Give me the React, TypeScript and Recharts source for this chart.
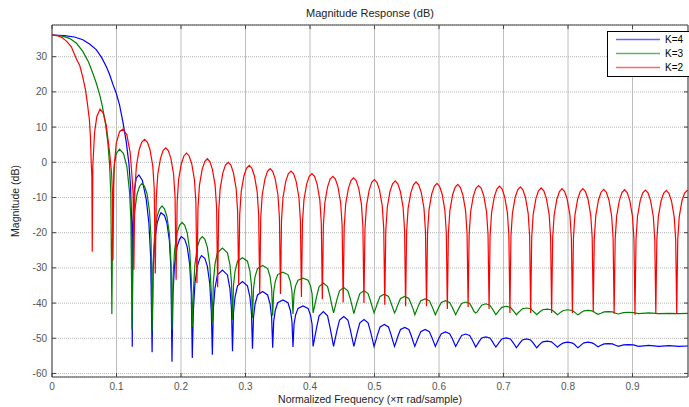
import { CartesianGrid, Legend, Line, LineChart, ReferenceArea, XAxis, YAxis } from 'recharts';

// tick values
const X_TICKS = [0, 0.1, 0.2, 0.3, 0.4, 0.5, 0.6, 0.7, 0.8, 0.9];
const Y_TICKS = [-60, -50, -40, -30, -20, -10, 0, 10, 20, 30];

// [normalized frequency, magnitude dB]
const K4_BLUE: [number, number][] = [
  [0, 36.1], [0.0194, 36.0], [0.0349, 35.6], [0.0478, 34.8], [0.0582, 33.6], [0.0686, 32], [0.0768, 29.8],
  [0.0841, 27.2], [0.0892, 25], [0.0943, 22.2], [0.0996, 19.6], [0.1047, 16.3], [0.1099, 11.5], [0.1151, 5.8],
  [0.1192, -0.3], [0.1218, -6.9], [0.1237, -18],
  [0.1244, -52.4], [0.1254, -18], [0.1272, -8.5], [0.1306, -4.5], [0.1347, -3.6], [0.14, -5.1], [0.1462, -10.7], [0.1502, -17.3], [0.153, -27],
  [0.1552, -54.0], [0.1568, -30.3], [0.1592, -22.3], [0.163, -17.3], [0.1669, -15.1], [0.169, -14.3], [0.1743, -15.1], [0.1782, -17.3], [0.182, -22.3], [0.1844, -30.3],
  [0.186, -56.7], [0.1876, -37.1], [0.19, -29.1], [0.1938, -24.1], [0.1977, -21.9], [0.2005, -21.1], [0.2058, -21.9], [0.2097, -24.1], [0.2135, -29.1], [0.2159, -37.1],
  [0.2175, -55.6], [0.2191, -42.5], [0.2215, -34.5], [0.2253, -29.5], [0.2292, -27.3], [0.2318, -26.5], [0.2369, -27.3], [0.2408, -29.5], [0.2446, -34.5], [0.247, -42.5],
  [0.2486, -54.7], [0.2502, -41.4], [0.2526, -35.9], [0.2564, -32], [0.2642, -30.6], [0.272, -32], [0.2758, -35.9], [0.2782, -41.4],
  [0.2798, -53.7], [0.2814, -42.7], [0.2838, -38.2], [0.2876, -35.1], [0.2953, -33.9], [0.303, -35.1], [0.3068, -38.2], [0.3092, -42.7],
  [0.3108, -53.0], [0.3124, -44], [0.3148, -40.3], [0.3186, -37.7], [0.3265, -36.7], [0.3343, -37.7], [0.3381, -40.3], [0.3405, -44],
  [0.3421, -52.7], [0.3437, -45.2], [0.3461, -42.1], [0.3499, -39.9], [0.3579, -39.1], [0.3658, -39.9], [0.3696, -42.1], [0.372, -45.2],
  [0.3736, -52.5], [0.3752, -46], [0.3776, -43.4], [0.3814, -41.5], [0.3892, -40.8], [0.397, -41.5], [0.4008, -43.4], [0.4032, -46],
  [0.4048, -52.3], [0.4073, -49.8], [0.4103, -46.9], [0.4141, -43.6], [0.4207, -42.4], [0.4272, -43.6], [0.431, -46.9], [0.434, -49.8],
  [0.4365, -52.3], [0.439, -50.2], [0.442, -47.6], [0.4458, -44.8], [0.4523, -43.8], [0.4587, -44.8], [0.4625, -47.6], [0.4655, -50.2],
  [0.468, -52.3], [0.4705, -50.4], [0.4735, -48.1], [0.4773, -45.6], [0.4837, -44.7], [0.49, -45.6], [0.4938, -48.1], [0.4968, -50.4],
  [0.4993, -52.3], [0.5018, -50.8], [0.5048, -48.9], [0.5086, -46.8], [0.5152, -46.1], [0.5217, -46.8], [0.5255, -48.9], [0.5285, -50.8],
  [0.531, -52.3], [0.5335, -51], [0.5365, -49.3], [0.5403, -47.5], [0.5468, -46.9], [0.5532, -47.5], [0.557, -49.3], [0.56, -51],
  [0.5625, -52.3], [0.565, -51.1], [0.568, -49.7], [0.5718, -48.1], [0.5784, -47.5], [0.585, -48.1], [0.5888, -49.7], [0.5918, -51.1],
  [0.5943, -52.3], [0.5968, -51.3], [0.5998, -50], [0.6036, -48.7], [0.6101, -48.2], [0.6165, -48.7], [0.6203, -50], [0.6233, -51.3],
  [0.6258, -52.3], [0.6283, -51.5], [0.6313, -50.4], [0.6351, -49.2], [0.6413, -48.8], [0.6475, -49.2], [0.6513, -50.4], [0.6543, -51.5],
  [0.6568, -52.5], [0.6593, -51.8], [0.6623, -50.9], [0.6661, -49.9], [0.6725, -49.6], [0.6788, -49.9], [0.6826, -50.9], [0.6856, -51.8],
  [0.6881, -52.5], [0.6906, -51.9], [0.6936, -51.1], [0.6974, -50.2], [0.704, -49.9], [0.7106, -50.2], [0.7144, -51.1], [0.7174, -51.9],
  [0.7199, -52.7], [0.7224, -52.1], [0.7254, -51.3], [0.7292, -50.5], [0.7357, -50.2], [0.7421, -50.5], [0.7459, -51.3], [0.7489, -52.1],
  [0.7514, -52.7], [0.7539, -52.2], [0.7569, -51.6], [0.7607, -51.0], [0.7675, -50.8], [0.7743, -51.0], [0.7781, -51.6], [0.7811, -52.1],
  [0.7836, -52.5], [0.7861, -52.1], [0.7891, -51.7], [0.7929, -51.3], [0.7995, -51.1], [0.8061, -51.3], [0.8099, -51.7], [0.8129, -52.3],
  [0.8154, -52.7], [0.8179, -52.3], [0.8209, -51.8], [0.8247, -51.3], [0.8311, -51.1], [0.8374, -51.3], [0.8412, -51.7], [0.8442, -52.1],
  [0.8467, -52.4], [0.851, -52.0], [0.856, -51.6], [0.8624, -51.5], [0.8688, -51.6], [0.8738, -52.0],
  [0.878, -52.3], [0.886, -51.9], [0.8937, -51.8], [0.9014, -51.9],
  [0.9094, -52.3], [0.9251, -52.0], [0.9407, -52.3], [0.9564, -52.1], [0.9721, -52.3], [0.986, -52.2],
];

const K3_GREEN: [number, number][] = [
  [0, 36.1], [0.0147, 35.9], [0.0272, 35.2], [0.038, 33.8], [0.0478, 31.5], [0.0566, 28.5], [0.0633, 25.3],
  [0.069, 22.3], [0.0745, 18.8], [0.0784, 15.6], [0.083, 10.8], [0.0866, 5.5], [0.0892, -0.5], [0.0912, -9],
  [0.0928, -43.1], [0.0943, -10.7], [0.097, -0.3], [0.0996, 2.5], [0.1047, 3.7], [0.1109, 2.5], [0.1161, -1.2], [0.1203, -8.7], [0.1223, -16.3],
  [0.1241, -47.6], [0.1257, -22], [0.1281, -14], [0.1319, -9], [0.1358, -6.8], [0.1397, -6], [0.1435, -6.8], [0.1474, -9], [0.1512, -14], [0.1536, -22],
  [0.1552, -47.9], [0.1568, -28.4], [0.1592, -20.4], [0.163, -15.4], [0.1669, -13.2], [0.1706, -12.4], [0.1743, -13.2], [0.1782, -15.4], [0.182, -20.4], [0.1844, -28.4],
  [0.186, -47.6], [0.1876, -33.1], [0.19, -25.1], [0.1938, -20.1], [0.1977, -17.9], [0.2018, -17.1], [0.2058, -17.9], [0.2097, -20.1], [0.2135, -25.1], [0.2159, -33.1],
  [0.2175, -46.8], [0.2191, -37.1], [0.2215, -29.1], [0.2253, -24.1], [0.2292, -21.9], [0.2331, -21.1], [0.2369, -21.9], [0.2408, -24.1], [0.2446, -29.1], [0.247, -37.1],
  [0.2486, -45.5], [0.2502, -33.9], [0.2526, -29], [0.2564, -25.7], [0.2642, -24.4], [0.272, -25.7], [0.2758, -29], [0.2782, -33.9],
  [0.2798, -44.7], [0.2814, -34.9], [0.2838, -30.9], [0.2876, -28.1], [0.2953, -27.1], [0.303, -28.1], [0.3068, -30.9], [0.3092, -34.9],
  [0.3108, -44.2], [0.3124, -35.9], [0.3148, -32.5], [0.3186, -30.2], [0.3265, -29.3], [0.3343, -30.2], [0.3381, -32.5], [0.3405, -35.9],
  [0.3421, -43.6], [0.3437, -36.7], [0.3461, -33.9], [0.3499, -31.9], [0.3579, -31.2], [0.3658, -31.9], [0.3696, -33.9], [0.372, -36.7],
  [0.3736, -43.1], [0.3752, -37.4], [0.3776, -35.1], [0.3814, -33.5], [0.3892, -32.9], [0.397, -33.5], [0.4008, -35.1], [0.4032, -37.4],
  [0.4048, -42.8], [0.4073, -40.7], [0.4103, -38.1], [0.4141, -35.3], [0.4207, -34.3], [0.4272, -35.3], [0.431, -38.1], [0.434, -40.7],
  [0.4365, -42.8], [0.439, -41], [0.442, -38.8], [0.4458, -36.5], [0.4523, -35.6], [0.4587, -36.5], [0.4625, -38.8], [0.4655, -41],
  [0.468, -43.0], [0.4705, -41.3], [0.4735, -39.4], [0.4773, -37.3], [0.4837, -36.5], [0.49, -37.3], [0.4938, -39.4], [0.4968, -41.3],
  [0.4993, -42.8], [0.5018, -41.5], [0.5048, -39.9], [0.5086, -38.1], [0.5152, -37.5], [0.5217, -38.1], [0.5255, -39.9], [0.5285, -41.5],
  [0.531, -42.8], [0.5335, -41.8], [0.5365, -40.3], [0.5403, -38.7], [0.5468, -38.1], [0.5532, -38.7], [0.557, -40.3], [0.56, -41.8],
  [0.5625, -43.3], [0.565, -42.2], [0.568, -40.8], [0.5718, -39.3], [0.5784, -38.8], [0.585, -39.3], [0.5888, -40.8], [0.5918, -42.2],
  [0.5943, -43.3], [0.5968, -42.3], [0.5998, -41.1], [0.6036, -39.8], [0.6101, -39.3], [0.6165, -39.8], [0.6203, -41.1], [0.6233, -42.3],
  [0.6258, -43.3], [0.6283, -42.4], [0.6313, -41.3], [0.6351, -40.1], [0.6413, -39.7], [0.6475, -40.1], [0.6513, -41.3], [0.6543, -42.4],
  [0.6568, -42.8], [0.6593, -42.5], [0.6623, -41.6], [0.6661, -40.6], [0.6725, -40.2], [0.6788, -40.6], [0.6826, -41.6], [0.6856, -42.5],
  [0.6881, -43.3], [0.6906, -42.7], [0.6936, -42.0], [0.6974, -41.2], [0.704, -40.9], [0.7106, -41.2], [0.7144, -42.0], [0.7174, -42.7],
  [0.7199, -43.3], [0.7224, -42.8], [0.7254, -42.3], [0.7292, -41.6], [0.7357, -41.4], [0.7421, -41.6], [0.7459, -42.3], [0.7489, -42.8],
  [0.7514, -43.3], [0.7539, -42.9], [0.7569, -42.4], [0.7607, -41.9], [0.7675, -41.7], [0.7743, -41.9], [0.7781, -42.4], [0.7811, -42.9],
  [0.7836, -43.3], [0.7861, -43.0], [0.7891, -42.5], [0.7929, -42.1], [0.7995, -41.9], [0.8061, -42.1], [0.8099, -42.5], [0.8129, -43.0],
  [0.8154, -43.3], [0.8179, -43.0], [0.8209, -42.6], [0.8247, -42.2], [0.8311, -42.1], [0.8374, -42.2], [0.8412, -42.6], [0.8442, -43.0],
  [0.8467, -43.2], [0.851, -42.9], [0.856, -42.5], [0.8624, -42.4], [0.8688, -42.5], [0.8738, -42.9],
  [0.878, -43.1], [0.886, -42.7], [0.8937, -42.6], [0.9014, -42.7],
  [0.9094, -43.0], [0.9251, -42.8], [0.9407, -43.0], [0.9564, -42.9], [0.9721, -43.0], [0.986, -42.9],
];

const K2_RED: [number, number][] = [
  [0, 36.1], [0.008, 36.0], [0.015, 35.5], [0.022, 34.5], [0.03, 32.8], [0.0375, 29.5], [0.043, 27.5], [0.048, 24],
  [0.052, 20.5], [0.055, 16.5], [0.058, 12], [0.0595, 7.5], [0.0608, 0], [0.0618, -4],
  [0.0624, -25.4], [0.0633, -1], [0.066, 8.5], [0.0695, 13], [0.0745, 15.1], [0.0795, 14], [0.0841, 10.5], [0.0892, 3], [0.0923, -3], [0.0936, -8],
  [0.0945, -27.9], [0.0959, -2.2], [0.0996, 5.4], [0.1047, 8.7], [0.1099, 9.4], [0.1161, 7.8], [0.1213, 2.6], [0.1244, -5], [0.1258, -9],
  [0.1269, -30.5], [0.1285, -7.5], [0.1309, -1], [0.135, 3.5], [0.139, 5.7], [0.1435, 6.5], [0.148, 5.7], [0.152, 3.5], [0.1562, -1], [0.1585, -7.5],
  [0.1601, -31.6], [0.1617, -9.9], [0.164, -3.4], [0.1682, 1.1], [0.1722, 3.3], [0.1763, 4.1], [0.1803, 3.3], [0.1843, 1.1], [0.1885, -3.4], [0.1908, -9.9],
  [0.1924, -33.4], [0.194, -11.4], [0.1963, -4.9], [0.2005, -0.4], [0.2045, 1.8], [0.2086, 2.6], [0.2126, 1.8], [0.2166, -0.4], [0.2208, -4.9], [0.2231, -11.4],
  [0.2247, -34.3], [0.2263, -13], [0.2286, -6.5], [0.2328, -2], [0.2368, 0.2], [0.2408, 1.0], [0.2447, 0.2], [0.2487, -2], [0.2529, -6.5], [0.2552, -13],
  [0.2568, -35.5], [0.2584, -14], [0.2607, -7.5], [0.2649, -3], [0.2689, -0.8], [0.2731, 0], [0.2773, -0.8], [0.2813, -3], [0.2855, -7.5], [0.2878, -14],
  [0.2894, -34.8], [0.291, -14.9], [0.2933, -8.4], [0.2975, -3.9], [0.3015, -1.7], [0.3057, -0.9], [0.3099, -1.7], [0.3139, -3.9], [0.3181, -8.4], [0.3204, -14.9],
  [0.322, -37.4], [0.3236, -15.8], [0.3259, -9.3], [0.3301, -4.8], [0.3341, -2.6], [0.3381, -1.8], [0.3421, -2.6], [0.3461, -4.8], [0.3503, -9.3], [0.3526, -15.8],
  [0.3542, -37.4], [0.3558, -16.5], [0.3581, -10], [0.3623, -5.5], [0.3663, -3.3], [0.3705, -2.5], [0.3746, -3.3], [0.3786, -5.5], [0.3828, -10], [0.3851, -16.5],
  [0.3867, -38.3], [0.3883, -17.2], [0.3906, -10.7], [0.3948, -6.2], [0.3988, -4.0], [0.4029, -3.2], [0.407, -4.0], [0.411, -6.2], [0.4152, -10.7], [0.4175, -17.2],
  [0.4191, -38.9], [0.4207, -18], [0.423, -11.5], [0.4272, -7], [0.4312, -4.8], [0.4353, -4.0], [0.4393, -4.8], [0.4433, -7], [0.4475, -11.5], [0.4498, -18],
  [0.4514, -39.8], [0.453, -18.4], [0.4553, -11.9], [0.4595, -7.4], [0.4635, -5.2], [0.4675, -4.4], [0.4715, -5.2], [0.4755, -7.4], [0.4797, -11.9], [0.482, -18.4],
  [0.4836, -40.0], [0.4852, -18.9], [0.4875, -12.4], [0.4917, -7.9], [0.4957, -5.7], [0.4998, -4.9], [0.5038, -5.7], [0.5078, -7.9], [0.512, -12.4], [0.5143, -18.9],
  [0.5159, -40.5], [0.5175, -19.3], [0.5198, -12.8], [0.524, -8.3], [0.528, -6.1], [0.5321, -5.3], [0.5361, -6.1], [0.5401, -8.3], [0.5443, -12.8], [0.5466, -19.3],
  [0.5482, -40.9], [0.5498, -19.6], [0.5521, -13.1], [0.5563, -8.6], [0.5603, -6.4], [0.5644, -5.6], [0.5685, -6.4], [0.5725, -8.6], [0.5767, -13.1], [0.579, -19.6],
  [0.5806, -40.9], [0.5822, -20], [0.5845, -13.5], [0.5887, -9], [0.5927, -6.8], [0.5968, -6.0], [0.6008, -6.8], [0.6048, -9], [0.609, -13.5], [0.6113, -20],
  [0.6129, -41.7], [0.6145, -20.3], [0.6168, -13.8], [0.621, -9.3], [0.625, -7.1], [0.629, -6.3], [0.633, -7.1], [0.637, -9.3], [0.6412, -13.8], [0.6435, -20.3],
  [0.6451, -41.1], [0.6467, -20.6], [0.649, -14.1], [0.6532, -9.6], [0.6572, -7.4], [0.6614, -6.6], [0.6655, -7.4], [0.6695, -9.6], [0.6737, -14.1], [0.676, -20.6],
  [0.6776, -41.7], [0.6792, -20.8], [0.6815, -14.3], [0.6857, -9.8], [0.6897, -7.6], [0.6938, -6.8], [0.6978, -7.6], [0.7018, -9.8], [0.706, -14.3], [0.7083, -20.8],
  [0.7099, -42.8], [0.7115, -21], [0.7138, -14.5], [0.718, -10], [0.722, -7.8], [0.726, -7.0], [0.73, -7.8], [0.734, -10], [0.7382, -14.5], [0.7405, -21],
  [0.7421, -42.8], [0.7437, -21.3], [0.746, -14.8], [0.7502, -10.3], [0.7542, -8.1], [0.7584, -7.3], [0.7625, -8.1], [0.7665, -10.3], [0.7707, -14.8], [0.773, -21.3],
  [0.7746, -42.8], [0.7762, -21.5], [0.7785, -15], [0.7827, -10.5], [0.7867, -8.3], [0.7907, -7.5], [0.7947, -8.3], [0.7987, -10.5], [0.8029, -15], [0.8052, -21.5],
  [0.8068, -42.8], [0.8084, -21.5], [0.8107, -15], [0.8149, -10.5], [0.8189, -8.3], [0.823, -7.5], [0.827, -8.3], [0.831, -10.5], [0.8352, -15], [0.8375, -21.5],
  [0.8391, -42.6], [0.8407, -21.7], [0.843, -15.2], [0.8472, -10.7], [0.8512, -8.5], [0.8553, -7.7], [0.8594, -8.5], [0.8634, -10.7], [0.8676, -15.2], [0.8699, -21.7],
  [0.8715, -43.0], [0.8731, -21.8], [0.8754, -15.3], [0.8796, -10.8], [0.8836, -8.6], [0.8877, -7.8], [0.8917, -8.6], [0.8957, -10.8], [0.8999, -15.3], [0.9022, -21.8],
  [0.9038, -43.3], [0.9054, -21.9], [0.9077, -15.4], [0.9119, -10.9], [0.9159, -8.7], [0.92, -7.9], [0.924, -8.7], [0.928, -10.9], [0.9322, -15.4], [0.9345, -21.9],
  [0.9361, -43.0], [0.9377, -22], [0.94, -15.5], [0.9442, -11], [0.9482, -8.8], [0.9523, -8.0], [0.9564, -8.8], [0.9604, -11], [0.9646, -15.5], [0.9669, -22],
  [0.9685, -43.0], [0.9701, -22], [0.9724, -15.5], [0.9766, -11], [0.9806, -8.8], [0.9847, -8.0], [0.986, -8.1],
];

const SERIES = [
  { name: 'K=4', color: '#0000ff', points: K4_BLUE },
  { name: 'K=3', color: '#008000', points: K3_GREEN },
  { name: 'K=2', color: '#ff0000', points: K2_RED },
];

const FONT = '"Liberation Sans", Arial, Helvetica, sans-serif';
const PLOT = { left: 52, top: 25, right: 688, bottom: 377 };

const toRows = (pts: [number, number][]) => pts.map(([f, db]) => ({ f, db }));

function XTick({ x, payload }: any) {
  return (
    <g>
      <line x1={x} x2={x} y1={PLOT.bottom} y2={PLOT.bottom - 4} stroke="#444" />
      <line x1={x} x2={x} y1={PLOT.top} y2={PLOT.top + 4} stroke="#444" />
      <text x={x} y={PLOT.bottom + 13} textAnchor="middle" fill="#555" fontSize={10} fontFamily={FONT}>
        {String(payload.value)}
      </text>
    </g>
  );
}

function YTick({ y, payload }: any) {
  return (
    <g>
      <line x1={PLOT.left} x2={PLOT.left + 4} y1={y} y2={y} stroke="#444" />
      <line x1={PLOT.right} x2={PLOT.right - 4} y1={y} y2={y} stroke="#444" />
      <text x={PLOT.left - 5} y={y + 3.5} textAnchor="end" fill="#555" fontSize={10} fontFamily={FONT}>
        {String(payload.value)}
      </text>
    </g>
  );
}

function LegendBox() {
  return (
    <svg width={84} height={47} style={{ display: 'block' }}>
      <rect x={0.5} y={0.5} width={90} height={45} fill="#fff" stroke="#000" />
      {SERIES.map((s, i) => (
        <g key={s.name}>
          <line x1={9} x2={53} y1={8.5 + i * 14} y2={8.5 + i * 14} stroke={s.color} strokeOpacity={0.6} strokeWidth={1.5} />
          <text x={58} y={12 + i * 14} fontSize={10} fontFamily={FONT} fill="#000">
            {s.name}
          </text>
        </g>
      ))}
    </svg>
  );
}

export default function App() {
  return (
    <div style={{ position: 'absolute', left: 0, top: 0, width: 689, height: 407, background: '#fff', fontFamily: FONT }}>
      <LineChart width={689} height={407} margin={{ top: PLOT.top, right: 1, left: 0, bottom: 0 }}>
        <CartesianGrid horizontal={false} stroke="#bdbdbd" />
        <CartesianGrid vertical={false} stroke="#b5b5b5" strokeDasharray="1 1" />
        <XAxis
          dataKey="f"
          type="number"
          domain={[0, 0.986]}
          ticks={X_TICKS}
          height={30}
          tickLine={false}
          axisLine={false}
          tick={XTick}
          allowDataOverflow
        />
        <YAxis
          type="number"
          domain={[-61, 39]}
          ticks={Y_TICKS}
          width={52}
          tickLine={false}
          axisLine={false}
          tick={YTick}
          allowDataOverflow
        />
        <ReferenceArea x1={0} x2={0.986} y1={-61} y2={39} fill="none" stroke="#444" strokeWidth={1} />
        {SERIES.map((s) => (
          <Line
            key={s.name}
            data={toRows(s.points)}
            dataKey="db"
            name={s.name}
            type="linear"
            stroke={s.color}
            strokeWidth={1.2}
            dot={false}
            isAnimationActive={false}
          />
        ))}
        <Legend
          layout="horizontal"
          verticalAlign="middle"
          align="center"
          wrapperStyle={{ left: 607, top: 31, width: 84, height: 47 }}
          content={() => <LegendBox />}
        />
      </LineChart>
      <div style={{ position: 'absolute', left: PLOT.left, width: PLOT.right - PLOT.left, top: 7, textAlign: 'center', fontSize: 11, color: '#222' }}>
        Magnitude Response (dB)
      </div>
      <div style={{ position: 'absolute', left: PLOT.left, width: PLOT.right - PLOT.left, top: 393, textAlign: 'center', fontSize: 10.5, color: '#222' }}>
        Normalized Frequency (×π rad/sample)
      </div>
      <div
        style={{
          position: 'absolute',
          left: 15,
          top: 201,
          transform: 'translate(-50%, -50%) rotate(-90deg)',
          whiteSpace: 'nowrap',
          fontSize: 10.5,
          color: '#222',
        }}
      >
        Magnitude (dB)
      </div>
    </div>
  );
}
